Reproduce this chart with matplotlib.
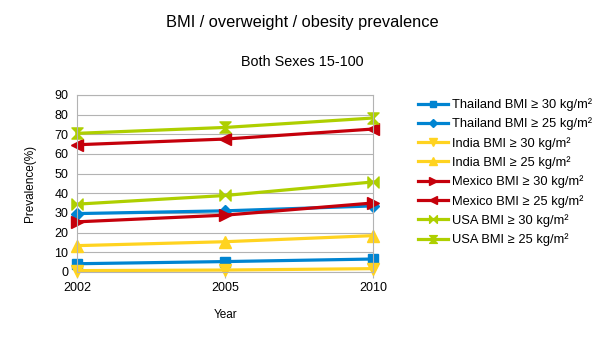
import numpy as np
import matplotlib.pyplot as plt
from matplotlib.path import Path

plt.rcParams['font.family'] = ['Liberation Sans', 'DejaVu Sans']

years = ['2002', '2005', '2010']

thai_30 = [4.2, 5.3, 6.6]
thai_25 = [29.7, 31.1, 33.6]
india_30 = [0.7, 1.0, 1.7]
india_25 = [13.4, 15.4, 18.5]
mexico_30 = [25.5, 28.9, 35.1]
mexico_25 = [64.7, 67.6, 72.7]
usa_30 = [34.5, 38.9, 45.8]
usa_25 = [70.5, 73.5, 78.3]

labels = ['Thailand BMI ≥ 30 kg/m²', 'Thailand BMI ≥ 25 kg/m²',
          'India BMI ≥ 30 kg/m²', 'India BMI ≥ 25 kg/m²',
          'Mexico BMI ≥ 30 kg/m²', 'Mexico BMI ≥ 25 kg/m²',
          'USA BMI ≥ 30 kg/m²', 'USA BMI ≥ 25 kg/m²']

blue = '#0084d1'
yellow = '#ffd320'
red = '#c5000b'
green = '#aecf00'

# custom LibreOffice-like markers
bowtie = Path([(-1, 1), (-1, -1), (1, 1), (1, -1), (-1, 1)],
              [Path.MOVETO, Path.LINETO, Path.LINETO, Path.LINETO, Path.CLOSEPOLY])
hourglass = Path([(-1, 1), (1, 1), (-1, -1), (1, -1), (-1, 1)],
                 [Path.MOVETO, Path.LINETO, Path.LINETO, Path.LINETO, Path.CLOSEPOLY])

series = [
    (thai_30, blue, 's', 7),
    (thai_25, blue, 'D', 6),
    (india_30, yellow, 'v', 8),
    (india_25, yellow, '^', 8),
    (mexico_30, red, '>', 8),
    (mexico_25, red, '<', 8),
    (usa_30, green, bowtie, 8),
    (usa_25, green, hourglass, 8),
]

fig = plt.figure(figsize=(6.05, 3.40), dpi=100)
ax = fig.add_axes([0.127, 0.2, 0.49, 0.5206])

x = np.arange(len(years))
for (vals, col, mk, ms), lab in zip(series, labels):
    ax.plot(x, vals, color=col, marker=mk, markersize=ms, linewidth=2.3,
            label=lab, markeredgecolor=col, markerfacecolor=col, clip_on=False)

ax.set_xlim(0, 2)
ax.set_ylim(0, 90)
ax.set_yticks(range(0, 91, 10))
ax.set_xticks(x)
ax.set_xticklabels(years)
ax.grid(axis='y', color='#b3b3b3', linewidth=0.8)
ax.set_axisbelow(True)
for s in ax.spines.values():
    s.set_color('#b3b3b3')
    s.set_linewidth(0.8)
ax.tick_params(axis='y', length=0, labelsize=9, pad=6)
ax.tick_params(axis='x', length=4, color='#b3b3b3', labelsize=9, pad=3)

ax.set_xlabel('Year', fontsize=8.5, labelpad=11)
ax.set_ylabel('Prevalence(%)', fontsize=8.5, labelpad=13)

fig.text(0.5, 0.935, 'BMI / overweight / obesity prevalence', ha='center', va='center', fontsize=11.8)
fig.text(0.5, 0.818, 'Both Sexes 15-100', ha='center', va='center', fontsize=10.4)

fig.legend(loc='upper left', bbox_to_anchor=(0.691, 0.711), frameon=False,
           fontsize=9.3, handlelength=2.3, handletextpad=0.3, labelspacing=0.5,
           borderaxespad=0, borderpad=0, markerscale=0.7)

fig.savefig('out.png', dpi=100)
